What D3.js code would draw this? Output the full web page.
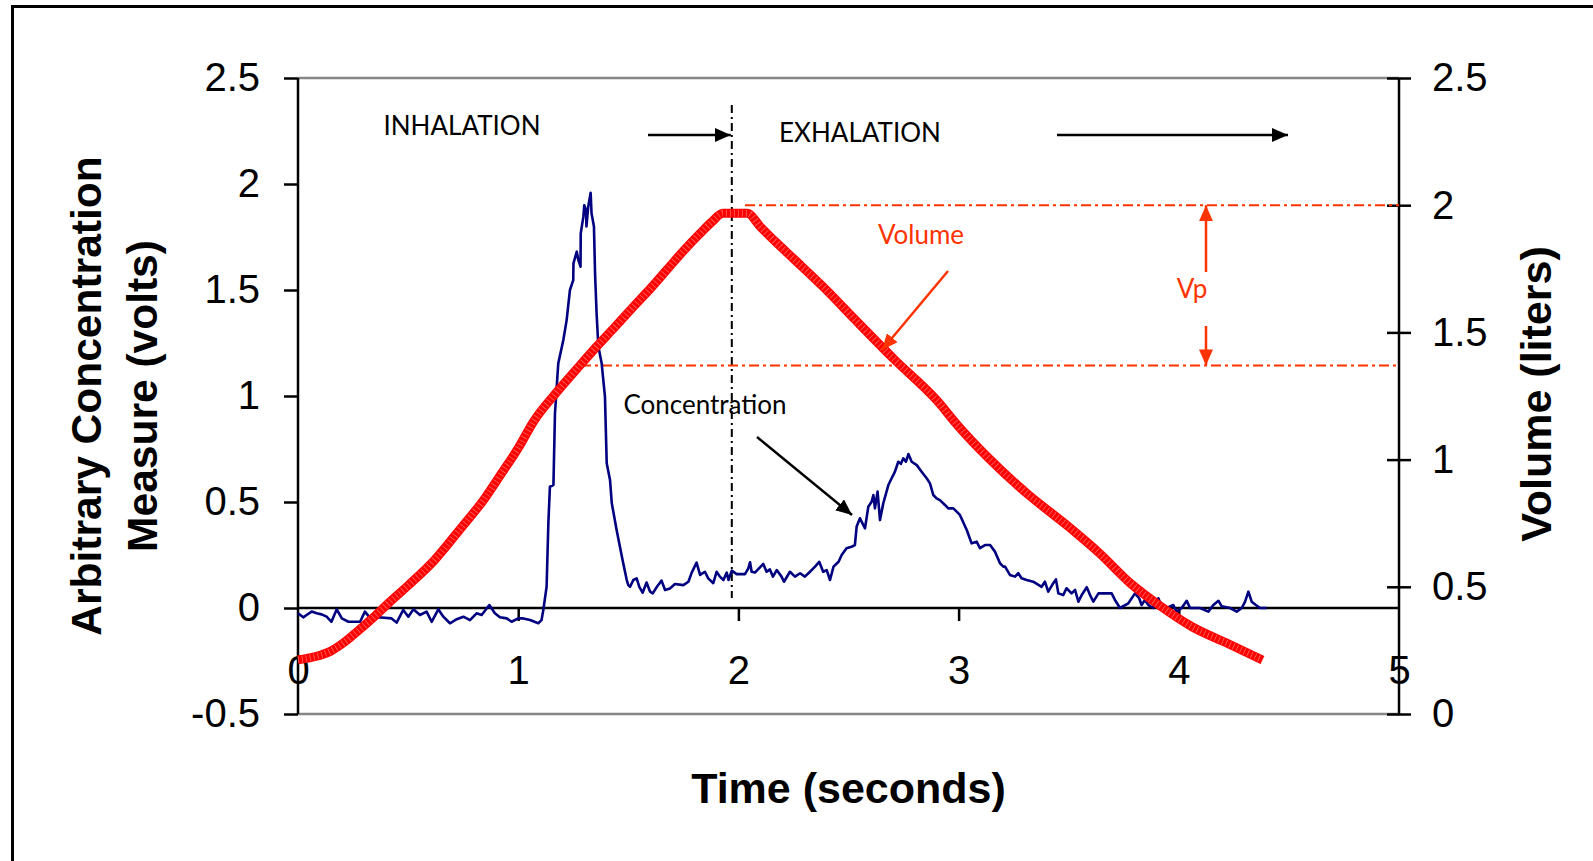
<!DOCTYPE html>
<html>
<head>
<meta charset="utf-8">
<script src="https://cdn.jsdelivr.net/npm/d3@7"></script>
<style>
  html, body { margin: 0; padding: 0; background: #ffffff; }
  svg { display: block; }
</style>
</head>
<body>
<svg id="chart" width="1593" height="861"></svg>
<script>
// ---- tick values ----
const timeTicks = [0, 1, 2, 3, 4, 5];
const voltTicks = [-0.5, 0, 0.5, 1, 1.5, 2, 2.5];
const literTicks = [0, 0.5, 1, 1.5, 2, 2.5];

// ---- concentration trace (seconds, volts) ----
const concTime = [
  0.000, 0.024, 0.039, 0.062, 0.085, 0.107, 0.130, 0.152, 0.176, 0.199,
  0.229, 0.282, 0.304, 0.335, 0.365, 0.425, 0.448, 0.478, 0.501, 0.524,
  0.554, 0.584, 0.607, 0.637, 0.660, 0.690, 0.721, 0.751, 0.781, 0.811,
  0.834, 0.869, 0.894, 0.917, 0.948, 0.970, 1.000, 1.023, 1.054, 1.091,
  1.106, 1.114, 1.129, 1.137, 1.144, 1.160, 1.167, 1.182, 1.205, 1.220,
  1.235, 1.250, 1.251, 1.266, 1.273, 1.283, 1.284, 1.296, 1.300, 1.308,
  1.310, 1.318, 1.329, 1.333, 1.344, 1.349, 1.356, 1.364, 1.379, 1.394,
  1.402, 1.417, 1.425, 1.447, 1.462, 1.477, 1.493, 1.500, 1.508, 1.523,
  1.538, 1.550, 1.565, 1.583, 1.599, 1.611, 1.630, 1.651, 1.667, 1.689,
  1.712, 1.750, 1.773, 1.788, 1.810, 1.826, 1.848, 1.863, 1.886, 1.901,
  1.916, 1.932, 1.947, 1.955, 1.970, 1.992, 2.030, 2.045, 2.053, 2.060,
  2.075, 2.098, 2.113, 2.128, 2.143, 2.157, 2.174, 2.196, 2.207, 2.234,
  2.257, 2.280, 2.302, 2.325, 2.348, 2.367, 2.385, 2.401, 2.416, 2.432,
  2.455, 2.469, 2.491, 2.514, 2.529, 2.537, 2.552, 2.567, 2.575, 2.590,
  2.605, 2.613, 2.620, 2.632, 2.643, 2.658, 2.681, 2.696, 2.711, 2.726,
  2.738, 2.749, 2.761, 2.772, 2.787, 2.810, 2.832, 2.855, 2.870, 2.885,
  2.900, 2.915, 2.938, 2.953, 2.976, 3.006, 3.037, 3.059, 3.082, 3.097,
  3.120, 3.143, 3.165, 3.188, 3.203, 3.211, 3.233, 3.256, 3.271, 3.286,
  3.309, 3.339, 3.377, 3.392, 3.407, 3.430, 3.442, 3.453, 3.475, 3.490,
  3.513, 3.529, 3.544, 3.559, 3.582, 3.597, 3.612, 3.635, 3.657, 3.695,
  3.710, 3.733, 3.771, 3.801, 3.820, 3.831, 3.846, 3.862, 3.884, 3.907,
  3.922, 3.945, 3.975, 3.990, 4.013, 4.036, 4.051, 4.096, 4.134, 4.157,
  4.180, 4.195, 4.233, 4.263, 4.286, 4.301, 4.316, 4.331, 4.350, 4.369,
  4.399
];
const concVolts = [
  -0.025, -0.044, -0.033, -0.017, -0.025, -0.030, -0.041, -0.065, -0.006, -0.049,
  -0.065, -0.065, -0.017, -0.057, -0.044, -0.049, -0.069, -0.009, -0.041, -0.006,
  -0.033, -0.017, -0.065, -0.006, -0.041, -0.072, -0.053, -0.041, -0.057, -0.025,
  -0.033, 0.014, -0.025, -0.044, -0.049, -0.065, -0.049, -0.049, -0.057, -0.072,
  -0.057, -0.010, 0.100, 0.400, 0.572, 0.580, 0.918, 1.154, 1.264, 1.358,
  1.500, 1.547, 1.626, 1.681, 1.642, 1.610, 1.767, 1.846, 1.900, 1.877,
  1.800, 1.893, 1.959, 1.862, 1.800, 1.579, 1.390, 1.233, 1.154, 0.997,
  0.683, 0.604, 0.494, 0.368, 0.289, 0.211, 0.132, 0.108, 0.100, 0.132,
  0.140, 0.100, 0.072, 0.120, 0.077, 0.069, 0.100, 0.129, 0.085, 0.092,
  0.113, 0.108, 0.124, 0.167, 0.214, 0.156, 0.171, 0.140, 0.117, 0.171,
  0.148, 0.132, 0.167, 0.132, 0.176, 0.160, 0.160, 0.187, 0.216, 0.171,
  0.167, 0.192, 0.208, 0.171, 0.182, 0.148, 0.179, 0.148, 0.124, 0.171,
  0.148, 0.164, 0.148, 0.171, 0.195, 0.218, 0.171, 0.179, 0.132, 0.195,
  0.218, 0.250, 0.282, 0.289, 0.297, 0.384, 0.423, 0.392, 0.376, 0.478,
  0.501, 0.533, 0.470, 0.549, 0.415, 0.494, 0.580, 0.612, 0.643, 0.690,
  0.680, 0.706, 0.690, 0.726, 0.690, 0.674, 0.643, 0.612, 0.588, 0.533,
  0.517, 0.509, 0.486, 0.470, 0.470, 0.439, 0.368, 0.305, 0.313, 0.282,
  0.297, 0.297, 0.266, 0.211, 0.195, 0.195, 0.156, 0.148, 0.164, 0.140,
  0.132, 0.124, 0.100, 0.124, 0.077, 0.117, 0.135, 0.069, 0.061, 0.093,
  0.069, 0.085, 0.030, 0.061, 0.098, 0.061, 0.030, 0.069, 0.069, 0.069,
  0.038, 0.000, 0.022, 0.069, 0.046, 0.014, 0.038, 0.014, 0.000, 0.046,
  0.008, 0.000, 0.014, -0.017, 0.000, 0.034, 0.000, 0.000, -0.017, 0.014,
  0.034, 0.008, 0.000, -0.017, 0.000, 0.030, 0.077, 0.030, 0.014, 0.000,
  0.000
];

// ---- lung volume trace (seconds, liters) ----
const volTime = [
  0.00, 0.08, 0.15, 0.21, 0.27, 0.34, 0.41, 0.50, 0.62, 0.73,
  0.85, 0.92, 1.00, 1.07, 1.175, 1.27, 1.356, 1.44, 1.523, 1.60,
  1.674, 1.75, 1.826, 1.88, 1.93, 2.04, 2.10, 2.17, 2.25, 2.39,
  2.53, 2.71, 2.90, 3.00, 3.13, 3.31, 3.50, 3.64, 3.78, 3.92,
  4.06, 4.22, 4.38
];
const volLiters = [
  0.213, 0.226, 0.248, 0.282, 0.325, 0.378, 0.435, 0.505, 0.605, 0.720,
  0.850, 0.940, 1.045, 1.150, 1.265, 1.360, 1.444, 1.522, 1.601, 1.672,
  1.745, 1.820, 1.889, 1.935, 1.968, 1.968, 1.915, 1.855, 1.790, 1.675,
  1.550, 1.392, 1.234, 1.130, 1.011, 0.867, 0.736, 0.632, 0.514, 0.422,
  0.343, 0.278, 0.212
];

// ---- reference marks ----
const phaseSwitchTime = 1.97;   // end of inhalation (s)
const vpUpper = 2.0;            // liters
const vpLower = 1.37;           // liters

const svg = d3.select("#chart");
const ORANGE = "#ff3300";
const NAVY = "#000080";

// outer frame
svg.append("rect")
  .attr("x", 12.5).attr("y", 6.5)
  .attr("width", 1620).attr("height", 900)
  .attr("fill", "none").attr("stroke", "#000").attr("stroke-width", 3);

// scales
const x = d3.scaleLinear().domain([0, 5]).range([298, 1399]);
const yL = d3.scaleLinear().domain([-0.5, 2.5]).range([714, 78]);
const yR = d3.scaleLinear().domain([0, 2.5]).range([714, 78]);

// arrow heads
const defs = svg.append("defs");
function addMarker(id, color) {
  defs.append("marker")
    .attr("id", id)
    .attr("markerUnits", "userSpaceOnUse")
    .attr("viewBox", "0 0 16 14")
    .attr("markerWidth", 16).attr("markerHeight", 14)
    .attr("refX", 16).attr("refY", 7)
    .attr("orient", "auto")
    .append("path").attr("d", "M0,0 L16,7 L0,14 Z").attr("fill", color);
}
addMarker("headBlack", "#000");
addMarker("headOrange", ORANGE);

// plot frame: gray top and bottom edges
svg.append("line").attr("x1", x(0)).attr("x2", x(5)).attr("y1", yL(2.5)).attr("y2", yL(2.5))
  .attr("stroke", "#868686").attr("stroke-width", 2.5);
svg.append("line").attr("x1", x(0)).attr("x2", x(5)).attr("y1", yL(-0.5)).attr("y2", yL(-0.5))
  .attr("stroke", "#868686").attr("stroke-width", 2.5);

// tick-label font
const tickFont = "'Liberation Sans', Arial, sans-serif";

// left axis
const gL = svg.append("g").attr("transform", `translate(${x(0)},0)`)
  .call(d3.axisLeft(yL).tickValues(voltTicks).tickSize(14).tickPadding(24)
    .tickFormat(d => String(d)));
gL.select(".domain").remove();
gL.selectAll(".tick line").attr("stroke", "#000").attr("stroke-width", 2.5);
gL.selectAll(".tick text").attr("font-family", tickFont).attr("font-size", 40).attr("fill", "#000");

// right axis (cross ticks)
const gR = svg.append("g").attr("transform", `translate(${x(5)},0)`)
  .call(d3.axisRight(yR).tickValues(literTicks).tickSize(12).tickPadding(21)
    .tickFormat(d => String(d)));
gR.select(".domain").remove();
gR.selectAll(".tick line").attr("x1", -12).attr("stroke", "#000").attr("stroke-width", 2.5);
gR.selectAll(".tick text").attr("font-family", tickFont).attr("font-size", 40).attr("fill", "#000");

// bottom axis at zero volts
const gB = svg.append("g").attr("transform", `translate(0,${yL(0)})`)
  .call(d3.axisBottom(x).tickValues(timeTicks).tickSize(13).tickPadding(35)
    .tickFormat(d => String(d)));
gB.select(".domain").remove();
gB.selectAll(".tick line").attr("stroke", "#000").attr("stroke-width", 2.5)
  .attr("display", d => (d === 0 || d === 5) ? "none" : null);
gB.selectAll(".tick text").attr("font-family", tickFont).attr("font-size", 40).attr("fill", "#000");

// axis lines
svg.append("line").attr("x1", x(0)).attr("x2", x(0)).attr("y1", yL(2.5)).attr("y2", yL(-0.5))
  .attr("stroke", "#000").attr("stroke-width", 2.5);
svg.append("line").attr("x1", x(5)).attr("x2", x(5)).attr("y1", yL(2.5)).attr("y2", yL(-0.5))
  .attr("stroke", "#000").attr("stroke-width", 2.5);
svg.append("line").attr("x1", x(0)).attr("x2", x(5)).attr("y1", yL(0)).attr("y2", yL(0))
  .attr("stroke", "#000").attr("stroke-width", 2.5);

// axis titles
const titleFont = "'Liberation Sans', Arial, sans-serif";
const gLT = svg.append("g").attr("transform", "translate(0,396) rotate(-90)");
gLT.append("text").attr("x", 0).attr("y", 101).attr("text-anchor", "middle")
  .attr("font-family", titleFont).attr("font-weight", "bold").attr("font-size", 42.5)
  .text("Arbitrary Concentration");
gLT.append("text").attr("x", 0).attr("y", 157).attr("text-anchor", "middle")
  .attr("font-family", titleFont).attr("font-weight", "bold").attr("font-size", 42.5)
  .text("Measure (volts)");

svg.append("g").attr("transform", "translate(1551,394) rotate(-90)")
  .append("text").attr("x", 0).attr("y", 0).attr("text-anchor", "middle")
  .attr("font-family", titleFont).attr("font-weight", "bold").attr("font-size", 43)
  .text("Volume (liters)");

svg.append("text").attr("x", (x(0) + x(5)) / 2).attr("y", 803).attr("text-anchor", "middle")
  .attr("font-family", titleFont).attr("font-weight", "bold").attr("font-size", 43)
  .text("Time (seconds)");

// phase divider (dash-dot)
svg.append("line")
  .attr("x1", x(phaseSwitchTime)).attr("x2", x(phaseSwitchTime))
  .attr("y1", 105).attr("y2", 598)
  .attr("stroke", "#000").attr("stroke-width", 2)
  .attr("stroke-dasharray", "8,4,2,4");

// Vp reference lines
svg.append("line").attr("x1", 745).attr("x2", x(5)).attr("y1", yR(vpUpper)).attr("y2", yR(vpUpper))
  .attr("stroke", ORANGE).attr("stroke-width", 2).attr("stroke-dasharray", "10,4,3,4");
svg.append("line").attr("x1", 581).attr("x2", x(5)).attr("y1", yR(vpLower)).attr("y2", yR(vpLower))
  .attr("stroke", ORANGE).attr("stroke-width", 2).attr("stroke-dasharray", "10,4,3,4");

// concentration trace
const concData = concTime.map((t, i) => [t, concVolts[i]]);
svg.append("path").datum(concData)
  .attr("fill", "none").attr("stroke", NAVY).attr("stroke-width", 2.6)
  .attr("stroke-linejoin", "round")
  .attr("d", d3.line().x(d => x(d[0])).y(d => yL(d[1])));

// volume trace
const volData = volTime.map((t, i) => [t, volLiters[i]]);
const volLine = d3.line().x(d => x(d[0])).y(d => yR(d[1])).curve(d3.curveMonotoneX);
svg.append("path").datum(volData)
  .attr("fill", "none").attr("stroke", "#ff0000").attr("stroke-width", 9)
  .attr("d", volLine);
svg.append("path").datum(volData)
  .attr("fill", "none").attr("stroke", "#ffffff").attr("stroke-width", 7)
  .attr("stroke-opacity", 0.4).attr("stroke-dasharray", "0.8,3.2")
  .attr("d", volLine);

// annotations
const noteFont = "Lato, 'Open Sans', sans-serif";
function note(txt, cx, baseline, color) {
  return svg.append("text").attr("x", cx).attr("y", baseline).attr("text-anchor", "middle")
    .attr("font-family", noteFont).attr("font-size", 26).attr("fill", color).text(txt);
}
note("INHALATION", 462, 135, "#000");
note("EXHALATION", 860, 142, "#000");
note("Concentration", 705, 414, "#000");
note("Volume", 921, 244, ORANGE);
note("Vp", 1192, 298, ORANGE);

function arrow(x1, y1, x2, y2, color, marker) {
  svg.append("line").attr("x1", x1).attr("y1", y1).attr("x2", x2).attr("y2", y2)
    .attr("stroke", color).attr("stroke-width", 2.5)
    .attr("marker-end", `url(#${marker})`);
}
arrow(648, 135, x(phaseSwitchTime) - 1, 135, "#000", "headBlack");
arrow(1057, 135, 1288, 135, "#000", "headBlack");
arrow(757, 437, 852, 515, "#000", "headBlack");
arrow(948, 271, 882, 350, ORANGE, "headOrange");
arrow(1206, 272, 1206, yR(vpUpper), ORANGE, "headOrange");
arrow(1206, 326, 1206, yR(vpLower), ORANGE, "headOrange");
</script>
</body>
</html>
